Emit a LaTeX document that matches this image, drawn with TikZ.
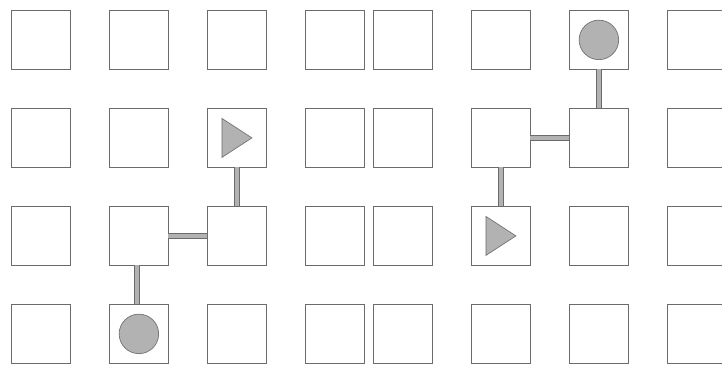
\documentclass[tikz,border=0pt]{standalone}
\begin{document}
\begin{tikzpicture}[x=1pt,y=-1pt,
  sq/.style={draw=black!58,line width=0.8pt,fill=white,minimum size=59pt,inner sep=0pt,outer sep=0pt},
  dot/.style={circle,draw=black!55,line width=0.7pt,fill=black!30,minimum size=39.5pt,inner sep=0pt},
  tri/.style={draw=black!55,line width=0.7pt,fill=black!30,line join=miter},
  bar/.style={draw=black!58,line width=0.8pt,double=black!30,double distance=3.8pt}]
\useasboundingbox (0,0) rectangle (722,365);
\clip (0,0) rectangle (722,365);
\foreach \x [count=\i] in {40.9,138.9,236.9,334.9,402.9,500.9,598.9,696.9}{
  \foreach \y [count=\j] in {39.9,137.9,235.9,333.9}{
    \node[sq] (c\i\j) at (\x,\y) {};
  }
}
% left path
\draw[bar] ([xshift=-1.8pt]c23.south) -- ([xshift=-1.8pt]c24.north);
\draw[bar] (c23.east) -- (c33.west);
\draw[bar] (c32.south) -- (c33.north);
\node[dot] (d1) at (c24) {};
\draw[tri] (c32) ++(-15,-19.5) -- ++(30,19.5) -- ++(-30,19.5) -- cycle;
% right path
\draw[bar] (c71.south) -- (c72.north);
\draw[bar] (c62.east) -- (c72.west);
\draw[bar] (c62.south) -- (c63.north);
\node[dot] (d2) at (c71) {};
\draw[tri] (c63) ++(-15,-19.5) -- ++(30,19.5) -- ++(-30,19.5) -- cycle;
\end{tikzpicture}
\end{document}
